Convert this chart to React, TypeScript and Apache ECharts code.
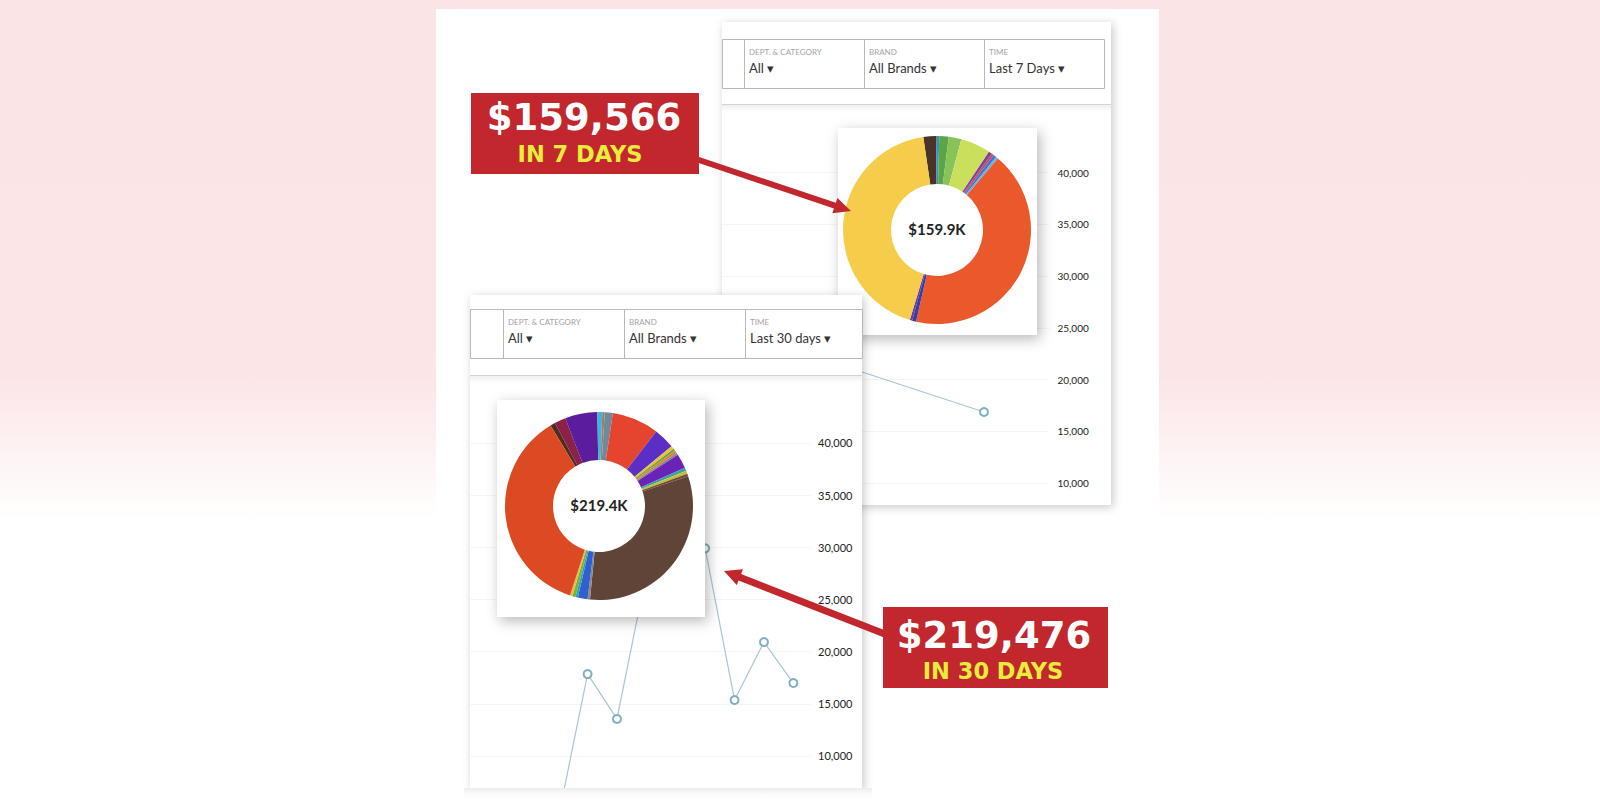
import React, { useEffect, useRef } from "react";
import * as echarts from "echarts";

// ---------- data ----------
const weekDays = [6, 7];
const weekSales = [21020, 16865];

const monthDays = [22, 23, 24, 25, 26, 27, 28, 29, 30];
const monthSales = [4000, 17850, 13550, 27500, 33000, 29900, 15360, 20920, 16990];

const axisLabelMin = 10000;
const axisLabelMax = 40000;

const weekTotalLabel = "$159.9K";
const monthTotalLabel = "$219.4K";

const weekCallout = "$159,566";
const weekCalloutSub = "IN 7 DAYS";
const monthCallout = "$219,476";
const monthCalloutSub = "IN 30 DAYS";

const weekFilters = ["DEPT. & CATEGORY", "BRAND", "TIME"];
const weekFilterValues = ["All ▾", "All Brands ▾", "Last 7 Days ▾"];
const monthFilters = ["DEPT. & CATEGORY", "BRAND", "TIME"];
const monthFilterValues = ["All ▾", "All Brands ▾", "Last 30 days ▾"];

// donut shares (clockwise from start angle)
const weekPieValues = [8, 2, 6, 8, 19, 2, 1.5, 2, 1.5, 156, 2.5, 1.5, 158.4];
const weekPieColors = [
  "#4a3328", "#3f8fb0", "#5aa548", "#88c35a", "#cadf5c", "#7d3f9c", "#d8465a",
  "#4178c8", "#6fb0e0", "#e9592c", "#3a3d9e", "#6a3aa8", "#f6cd4a",
];
const monthPieValues = [3, 7, 20, 3, 1.5, 5, 29, 13, 2, 1.5, 1.5, 1.5, 9, 2, 2, 1.5, 114, 1.5, 6, 1.5, 2, 1.5, 131];
const monthPieColors = [
  "#4a2e22", "#8c2148", "#5b1c9d", "#3fb3e0", "#a08060", "#6f8a9a", "#e5452f",
  "#5b2fc6", "#e8c23a", "#6aa84a", "#e08030", "#8a8a8a", "#6a22b8", "#3aa0a0",
  "#c0c040", "#7a4a30", "#5f4437", "#888888", "#2f5fd0", "#30a0b0", "#7ab040",
  "#e0c040", "#db4a22",
];

// ---------- helpers ----------
const CANVAS_H = 880;

const R = (x: number, y: number, w: number, h: number, style: any, z: number) => ({
  type: "rect", shape: { x, y, width: w, height: h }, style, z, silent: true,
});
const L = (x1: number, y1: number, x2: number, y2: number, stroke: string, z: number) => ({
  type: "line", shape: { x1, y1, x2, y2 }, style: { stroke, lineWidth: 1 }, z, silent: true,
});
const T = (x: number, y: number, text: string, o: any, z: number) => ({
  type: "text", z, silent: true,
  style: {
    x, y, text,
    fontFamily: o.family || "Lato",
    fontSize: o.size,
    fontWeight: o.weight || "normal",
    fill: o.fill,
    align: o.align || "left", textAlign: o.align || "left",
    verticalAlign: "middle", textVerticalAlign: "middle",
  },
});
const arrow = (x1: number, y1: number, x2: number, y2: number, sw: number, hw: number, hl: number, z: number) => {
  const dx = x2 - x1, dy = y2 - y1;
  const len = Math.hypot(dx, dy);
  const ux = dx / len, uy = dy / len;
  const nx = -uy, ny = ux;
  const bx = x2 - ux * hl, by = y2 - uy * hl;
  return {
    type: "polygon", z, silent: true,
    shape: {
      points: [
        [x1 + nx * sw, y1 + ny * sw],
        [bx + nx * sw, by + ny * sw],
        [bx + nx * hw, by + ny * hw],
        [x2, y2],
        [bx - nx * hw, by - ny * hw],
        [bx - nx * sw, by - ny * sw],
        [x1 - nx * sw, y1 - ny * sw],
      ],
    },
    style: { fill: "#c1272d" },
  };
};

const cardShadow = { shadowBlur: 10, shadowColor: "rgba(0,0,0,0.22)", shadowOffsetX: 2, shadowOffsetY: 2 };
const pieShadow = { shadowBlur: 14, shadowColor: "rgba(0,0,0,0.28)", shadowOffsetX: 3, shadowOffsetY: 4 };

function header(
  boxX: number, boxY: number, boxR: number, cols: number[], sepY: number, cardX: number, cardR: number,
  labels: string[], values: string[], z: number
) {
  const els: any[] = [];
  const boxB = boxY + 49;
  els.push(R(boxX + 0.5, boxY + 0.5, boxR - boxX, 49, { fill: "none", stroke: "#b8b8b8", lineWidth: 1 }, z));
  cols.forEach((c) => els.push(L(c + 0.5, boxY, c + 0.5, boxB, "#b8b8b8", z)));
  els.push(L(cardX, sepY + 0.5, cardR, sepY + 0.5, "#d4d4d4", z));
  els.push(R(cardX, sepY + 1, cardR - cardX, 7, {
    fill: new echarts.graphic.LinearGradient(0, 0, 0, 1, [
      { offset: 0, color: "rgba(0,0,0,0.06)" },
      { offset: 1, color: "rgba(0,0,0,0)" },
    ]),
  }, z));
  cols.forEach((c, i) => {
    els.push(T(c + 5, boxY + 13, labels[i], { size: 8, fill: "#a3a3a3" }, z));
    els.push(T(c + 5, boxY + 29, values[i], { size: 13, fill: "#333333" }, z));
  });
  return els;
}

const gridGrey = "#f5f5f5";
const splitColors = [
  "rgba(0,0,0,0)", "rgba(0,0,0,0)", gridGrey, gridGrey, gridGrey,
  gridGrey, gridGrey, gridGrey, gridGrey, "rgba(0,0,0,0)",
];
const fmt = (v: number) => (v >= axisLabelMin && v <= axisLabelMax ? v.toLocaleString("en-US") : "");

function buildOption() {
  const graphic: any[] = [];
  // background + panel
  graphic.push(R(0, 0, 1600, CANVAS_H, {
    fill: new echarts.graphic.LinearGradient(0, 0, 0, 800 / CANVAS_H, [
      { offset: 0, color: "#fbe4e6" },
      { offset: 0.47, color: "#fbe5e7" },
      { offset: 0.65, color: "#ffffff" },
      { offset: 1, color: "#ffffff" },
    ]),
  }, 0));
  graphic.push(R(436, 9, 723, CANVAS_H - 9, { fill: "#ffffff" }, 0));

  // top card (7 days)
  graphic.push(R(722, 22, 389, 483, { fill: "#ffffff", ...cardShadow }, 1));
  graphic.push(...header(722, 39, 1104, [744, 864, 984], 104, 722, 1111, weekFilters, weekFilterValues, 1));
  graphic.push(R(838, 128, 199, 207, { fill: "#ffffff", ...pieShadow }, 3));
  graphic.push(T(937, 229, weekTotalLabel, { size: 15, weight: "bold", fill: "#222222", align: "center" }, 5));

  // bottom card (30 days)
  graphic.push(R(470, 295, 392, 493, { fill: "#ffffff", ...cardShadow }, 5));
  graphic.push(...header(470, 309, 862, [503, 624, 745], 375, 470, 862, monthFilters, monthFilterValues, 5));
  // cover below the bottom card (line clipped at card bottom)
  graphic.push(R(464, 788, 408, CANVAS_H - 788, {
    fill: new echarts.graphic.LinearGradient(0, 0, 0, 12 / (CANVAS_H - 788), [
      { offset: 0, color: "#ececec" },
      { offset: 0.5, color: "#fbfbfb" },
      { offset: 1, color: "#ffffff" },
    ]),
  }, 7));
  graphic.push(R(497, 400, 208, 217, { fill: "#ffffff", ...pieShadow }, 8));
  graphic.push(T(599, 505, monthTotalLabel, { size: 15, weight: "bold", fill: "#222222", align: "center" }, 10));

  // arrows and callouts
  graphic.push(arrow(690, 157, 851, 211, 3, 8, 17, 11));
  graphic.push(arrow(895, 638, 724, 571, 3.5, 8.5, 17, 11));
  graphic.push(R(471, 93, 228, 81, { fill: "#c1272d" }, 12));
  graphic.push(T(584, 117, weekCallout, { family: "DejaVu Sans", size: 37, weight: "bold", fill: "#ffffff", align: "center" }, 13));
  graphic.push(T(580, 153.5, weekCalloutSub, { family: "DejaVu Sans", size: 22.5, weight: "bold", fill: "#e8ec3c", align: "center" }, 13));
  graphic.push(R(883, 607, 225, 81, { fill: "#c1272d" }, 12));
  graphic.push(T(994, 635, monthCallout, { family: "DejaVu Sans", size: 37, weight: "bold", fill: "#ffffff", align: "center" }, 13));
  graphic.push(T(993, 670.5, monthCalloutSub, { family: "DejaVu Sans", size: 22.5, weight: "bold", fill: "#e8ec3c", align: "center" }, 13));

  const yAxisCommon = (z: number, size: number, margin: number) => ({
    type: "value", position: "right", min: 0, max: 45000, interval: 5000, z,
    axisLine: { show: false }, axisTick: { show: false },
    splitLine: { show: true, lineStyle: { color: splitColors, width: 1 } },
    axisLabel: { formatter: fmt, fontFamily: "Lato", fontSize: size, color: "#222222", margin },
  });

  const lineSeries = (idx: number, days: number[], vals: number[], z: number) => ({
    type: "line", xAxisIndex: idx, yAxisIndex: idx, z, clip: true,
    data: days.map((d, i) => [d, vals[i]]),
    symbol: "emptyCircle", symbolSize: 8,
    lineStyle: { color: "#a7c7d2", width: 1.2 },
    itemStyle: { color: "#7fb0c0", borderWidth: 1.5 },
  });

  return {
    animation: false,
    backgroundColor: "transparent",
    graphic: { elements: graphic },
    grid: [
      { left: 722, top: 121, width: 327.5, height: 465.4 },
      { left: 470, top: 390.8, width: 341, height: 469.5 },
    ],
    xAxis: [
      { type: "value", gridIndex: 0, min: 5, max: 7.5, show: false },
      { type: "value", gridIndex: 1, min: 19, max: 30.6, show: false },
    ],
    yAxis: [
      { ...yAxisCommon(2, 10, 8), gridIndex: 0 },
      { ...yAxisCommon(6, 11, 7), gridIndex: 1 },
    ],
    series: [
      lineSeries(0, weekDays, weekSales, 2),
      {
        type: "pie", z: 4, center: [937, 230], radius: [46, 94], startAngle: 98.4,
        label: { show: false }, labelLine: { show: false }, silent: true,
        itemStyle: { borderWidth: 0 },
        data: weekPieValues.map((v, i) => ({ name: "Segment " + (i + 1), value: v, itemStyle: { color: weekPieColors[i] } })),
      },
      lineSeries(1, monthDays, monthSales, 6),
      {
        type: "pie", z: 9, center: [599, 506], radius: [46, 94], startAngle: 121,
        label: { show: false }, labelLine: { show: false }, silent: true,
        itemStyle: { borderWidth: 0 },
        data: monthPieValues.map((v, i) => ({ name: "Segment " + (i + 1), value: v, itemStyle: { color: monthPieColors[i] } })),
      },
    ],
  };
}

export default function App() {
  const ref = useRef<HTMLDivElement>(null);
  useEffect(() => {
    const chart = echarts.init(ref.current!, null, { renderer: "svg", width: 1600, height: CANVAS_H });
    chart.setOption(buildOption() as any);
    return () => chart.dispose();
  }, []);
  return (
    <div style={{ position: "absolute", left: 0, top: 0, width: 1600, height: 800, overflow: "hidden" }}>
      <div ref={ref} style={{ width: 1600, height: CANVAS_H }} />
    </div>
  );
}
